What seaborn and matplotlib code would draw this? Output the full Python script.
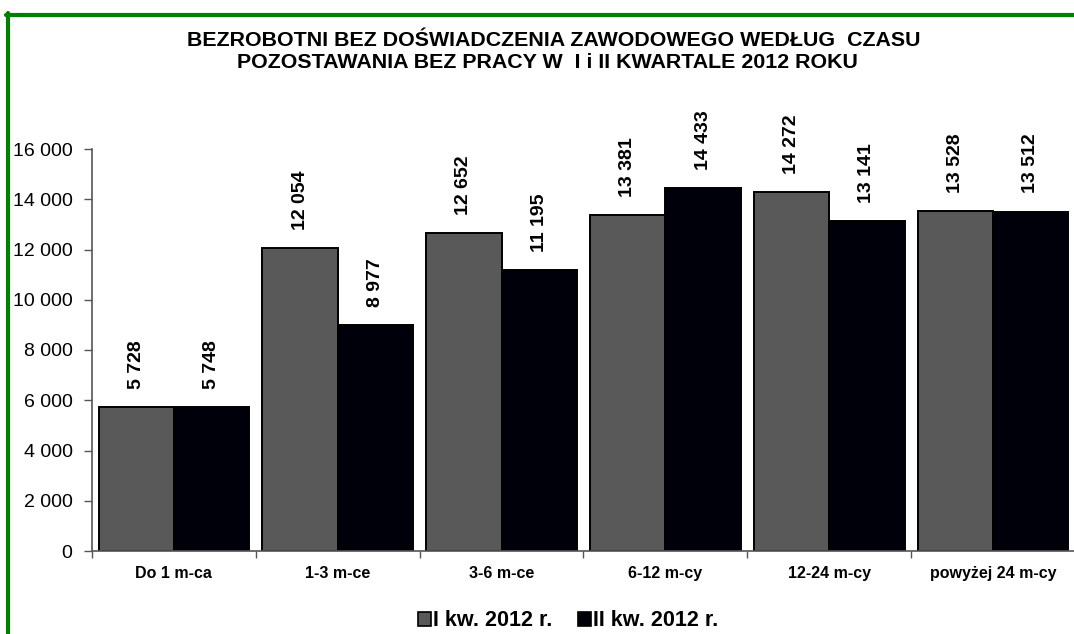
import matplotlib
matplotlib.use("Agg")
import matplotlib.pyplot as plt
from matplotlib.lines import Line2D
from matplotlib.patches import Patch
from matplotlib.ticker import FuncFormatter, FixedLocator
import seaborn as sns
import pandas as pd

categories = ["Do 1 m-ca", "1-3 m-ce", "3-6 m-ce", "6-12 m-cy", "12-24 m-cy", "powyżej 24 m-cy"]
series_names = ["I kw. 2012 r.", "II kw. 2012 r."]
q1_values = [5728, 12054, 12652, 13381, 14272, 13528]
q2_values = [5748, 8977, 11195, 14433, 13141, 13512]
y_ticks = [0, 2000, 4000, 6000, 8000, 10000, 12000, 14000, 16000]
title_lines = ["BEZROBOTNI BEZ DOŚWIADCZENIA ZAWODOWEGO WEDŁUG  CZASU",
               "POZOSTAWANIA BEZ PRACY W  I i II KWARTALE 2012 ROKU"]

colors = ["#595959", "#00000a"]

df = pd.DataFrame({
    "kategoria": categories * 2,
    "seria": [series_names[0]] * len(categories) + [series_names[1]] * len(categories),
    "wartosc": q1_values + q2_values,
})

sns.set_theme(style="white")
plt.rcParams["font.family"] = ["Liberation Sans", "DejaVu Sans"]
plt.rcParams["text.color"] = "black"
plt.rcParams["xtick.color"] = "black"
plt.rcParams["ytick.color"] = "black"
plt.rcParams["axes.labelcolor"] = "black"

W, H = 1074, 634
fig = plt.figure(figsize=(W / 100, H / 100), dpi=100)
fig.patch.set_facecolor("white")
ax = fig.add_axes([92 / W, 1 - 551 / H, (1075 - 92) / W, (551 - 149) / H])

sns.barplot(data=df, x="kategoria", y="wartosc", hue="seria", order=categories,
            hue_order=series_names, palette=colors, width=0.92, gap=0,
            edgecolor="black", linewidth=1.4, saturation=1, ax=ax, legend=False)

ax.set_ylim(0, 16000)
ax.set_xlim(-0.5, len(categories) - 0.5)
ax.set_xlabel("")
ax.set_ylabel("")

fmt = lambda v, p=None: f"{int(round(v)):,}".replace(",", " ")
ax.yaxis.set_major_locator(FixedLocator(y_ticks))
ax.yaxis.set_major_formatter(FuncFormatter(fmt))
ax.tick_params(axis="y", which="major", direction="out", length=6, width=1,
               color="#555555", labelsize=14, pad=8, left=True, labelcolor="black")

# x: labels at centers, tick marks at category boundaries
ax.set_xticks(range(len(categories)))
ax.set_xticklabels(categories, fontsize=11.5, fontweight="bold", color="black")
ax.tick_params(axis="x", which="major", length=0, pad=11, labelcolor="black")
ax.set_xticks([i - 0.5 for i in range(len(categories) + 1)], minor=True)
ax.tick_params(axis="x", which="minor", direction="out", length=5, width=1,
               color="#555555", bottom=True)

for side in ["top", "right"]:
    ax.spines[side].set_visible(False)
for side in ["left", "bottom"]:
    ax.spines[side].set_visible(True)
    ax.spines[side].set_color("#555555")
    ax.spines[side].set_linewidth(1.2)
ax.grid(False)

# value labels
for container in ax.containers:
    labels = [fmt(b.get_height()) for b in container]
    ax.bar_label(container, labels=labels, rotation=90, padding=13,
                 fontsize=14, fontweight="bold", color="black", clip_on=False)

# title
fig.text(554 / W, 1 - 46 / H, title_lines[0], ha="center", va="baseline",
         fontsize=15.4, fontweight="bold", color="black")
fig.text(547 / W, 1 - 68 / H, title_lines[1], ha="center", va="baseline",
         fontsize=15.4, fontweight="bold", color="black")

# legend
handles = [Patch(facecolor=c, edgecolor="black", linewidth=1.2) for c in colors]
fig.legend(handles, series_names, loc="center", bbox_to_anchor=(568 / W, 1 - 621 / H),
           ncol=2, frameon=False, prop={"weight": "bold", "size": 15.5},
           handlelength=0.6, handleheight=0.6, handletextpad=0.1, columnspacing=1.2,
           labelcolor="black")

# green frame (top and left)
fig.add_artist(Line2D([6 / W, 1.0], [1 - 15 / H, 1 - 15 / H], transform=fig.transFigure,
                      color="#008000", linewidth=3))
fig.add_artist(Line2D([8 / W, 8 / W], [0, 1 - 13 / H], transform=fig.transFigure,
                      color="#008000", linewidth=3))

fig.savefig("out.png", dpi=100, facecolor="white")
